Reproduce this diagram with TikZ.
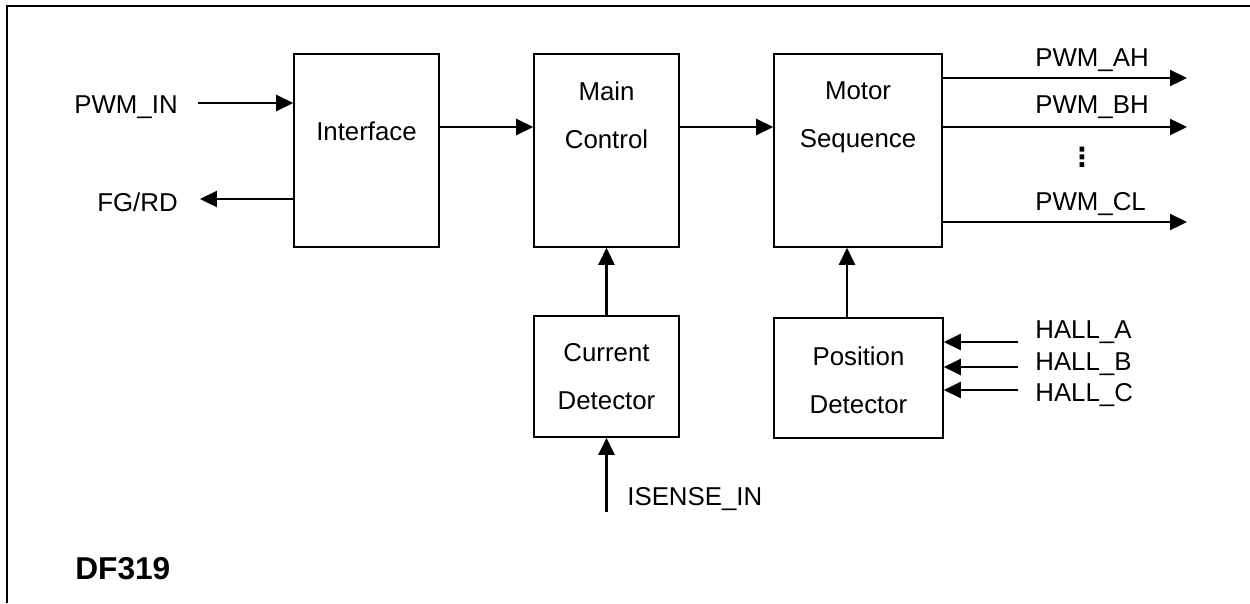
\documentclass[tikz,border=0pt]{standalone}
\usepackage{fontspec}
\setmainfont{Liberation Sans}
\newfontfamily\dotsfont{DejaVu Sans}
\usetikzlibrary{arrows.meta}

\begin{document}
\begin{tikzpicture}[x=0.02cm,y=-0.02cm,
  blk/.style={draw,line width=0.9pt,inner sep=0pt},
  txt/.style={inner sep=0pt,align=center,font=\fontsize{14.7pt}{27.3pt}\selectfont},
  sig/.style={line width=1.3pt,-{Triangle[length=0.34cm,width=0.32cm]}}]
 \useasboundingbox (0,0) rectangle (1250,603);
 % frame
 \draw[line width=1.4pt] (1250,6) -- (7,6) -- (7,603);
 % blocks
 \node[blk,minimum width=2.9cm,minimum height=3.86cm] (ifc) at (366.5,150.5) {};
 \node[blk,minimum width=2.9cm,minimum height=3.86cm] (main) at (606.5,150.5) {};
 \node[blk,minimum width=3.36cm,minimum height=3.86cm] (motor) at (858,150.5) {};
 \node[blk,minimum width=2.9cm,minimum height=2.42cm] (cur) at (606.5,376.5) {};
 \node[blk,minimum width=3.38cm,minimum height=2.4cm] (pos) at (858.5,378) {};
 \node[txt,anchor=north] (ifcTxt) at (366.5,121) {Interface};
 \node[txt,anchor=north] (mainTxt) at (606.5,81) {Main\\Control};
 \node[txt,anchor=north] (motorTxt) at (858,81) {Motor\\Sequence};
 \node[txt,anchor=north] (curTxt) at (606.5,343) {Current\\Detector};
 \node[txt,anchor=north] (posTxt) at (858.5,346) {Position\\Detector};
 % signal names
 \node[txt,anchor=north east] (pwmin) at (178,95) {PWM\_IN};
 \node[txt,anchor=north east] (fgrd) at (178,192) {FG/RD};
 \node[txt,anchor=north west] (pwmah) at (1035,48) {PWM\_AH};
 \node[txt,anchor=north west] (pwmbh) at (1035,95) {PWM\_BH};
 \node[txt,font=\fontsize{15pt}{15pt}\selectfont\dotsfont\bfseries] (dots) at (1082,157) {⋮};
 \node[txt,anchor=north west] (pwmcl) at (1035,192) {PWM\_CL};
 \node[txt,anchor=north west] (halla) at (1035,320) {HALL\_A};
 \node[txt,anchor=north west] (hallb) at (1035,352) {HALL\_B};
 \node[txt,anchor=north west] (hallc) at (1035,383) {HALL\_C};
 \node[txt,anchor=north west] (isense) at (627,487) {ISENSE\_IN};
 \node[txt,anchor=north west,font=\fontsize{18pt}{20pt}\selectfont\bfseries] (chip) at (75,557) {DF319};
 % free ends
 \coordinate (row) at (0,127);
 \coordinate (posUp) at (847,0);
 \coordinate (inEnd) at (198,103);
 \coordinate (fgEnd) at (200,199);
 \coordinate (ahEnd) at (1187,78);
 \coordinate (bhEnd) at (1187,127);
 \coordinate (clEnd) at (1187,222);
 \coordinate (haEnd) at (1018,342);
 \coordinate (hbEnd) at (1018,367);
 \coordinate (hcEnd) at (1018,390);
 \coordinate (isEnd) at (606.5,512);
 % connectors
 \draw[sig] (inEnd) -- (inEnd -| ifc.west);
 \draw[sig] (fgEnd -| ifc.west) -- (fgEnd);
 \draw[sig] (ifc.east |- row) -- (main.west |- row);
 \draw[sig] (main.east |- row) -- (motor.west |- row);
 \draw[sig] (cur.north) -- (main.south);
 \draw[sig] (pos.north -| posUp) -- (motor.south -| posUp);
 \draw[sig] (isEnd) -- (cur.south);
 \draw[sig] (ahEnd -| motor.east) -- (ahEnd);
 \draw[sig] (bhEnd -| motor.east) -- (bhEnd);
 \draw[sig] (clEnd -| motor.east) -- (clEnd);
 \draw[sig] (haEnd) -- (haEnd -| pos.east);
 \draw[sig] (hbEnd) -- (hbEnd -| pos.east);
 \draw[sig] (hcEnd) -- (hcEnd -| pos.east);
\end{tikzpicture}
\end{document}
